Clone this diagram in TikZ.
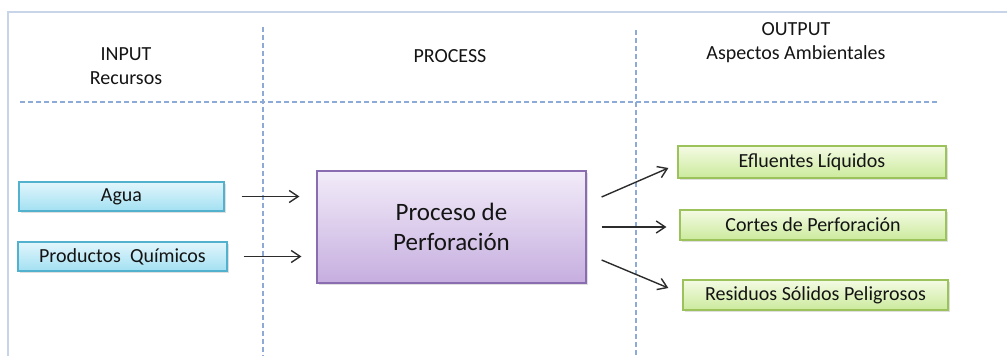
\documentclass[tikz,border=0pt]{standalone}
\usepackage{fontspec}
\setmainfont{Carlito}
\usetikzlibrary{arrows.meta,shadows,calc}
\definecolor{frameline}{HTML}{C8D4E8}
\definecolor{sepline}{HTML}{8EAAD6}
\definecolor{intop}{HTML}{E2F6FC}
\definecolor{inbot}{HTML}{A2E0F2}
\definecolor{inline}{HTML}{52B2CE}
\definecolor{proctop}{HTML}{F2ECF9}
\definecolor{procbot}{HTML}{C6AEDF}
\definecolor{procline}{HTML}{8A6CB0}
\definecolor{outtop}{HTML}{F4FBE4}
\definecolor{outbot}{HTML}{CBEA9C}
\definecolor{outline}{HTML}{9CC25C}
\definecolor{ink}{HTML}{141414}
\tikzset{
    base box/.style = {
        draw,
        line width=1.2pt,
        inner sep=0pt,
        text=ink,
        font=\fontsize{20}{24}\selectfont,
        drop shadow={shadow xshift=2pt, shadow yshift=-2pt, opacity=0.25},
        },
    input box/.style = {
        base box,
        draw=inline,
        top color=intop,
        bottom color=inbot,
        },
    process box/.style = {
        base box,
        draw=procline,
        top color=proctop,
        bottom color=procbot,
        align=center,
        font=\fontsize{25}{30}\selectfont,
        },
    output box/.style = {
        base box,
        draw=outline,
        top color=outtop,
        bottom color=outbot,
        },
    heading/.style = {
        text=ink,
        align=center,
        font=\fontsize{20}{24}\selectfont,
        },
    separator/.style = {
        draw=sepline,
        line width=1.2pt,
        dash pattern=on 5pt off 3pt,
        },
    flow/.style = {
        draw=ink!90,
        line width=1.4pt,
        -{Straight Barb[length=9pt,width=12pt,line width=1.4pt]},
        },
}

\begin{document}
\begin{tikzpicture}[x=1pt,y=-1pt]
    \useasboundingbox (0,0) rectangle (1007,356);

    % frame and column separators
    \draw[frameline, line width=1.2pt] (8,356) -- (8,12) -- (1007,12);
    \draw[separator] (20,102) -- (937,102);
    \draw[separator] (263,27) -- (263,356);
    \draw[separator] (636,30) -- (636,356);

    % headings
    \node[heading] (hin) at (126,66.5) {INPUT\\Recursos};
    \node[heading] (hproc) at (450,56) {PROCESS};
    \node[heading] (hout) at (796,43) {OUTPUT\\Aspectos Ambientales};

    \node[input box, minimum width=205pt, minimum height=29pt] (agua) at (121.5,196.5) {Agua};
    \node[input box, minimum width=209pt, minimum height=29pt] (quim) at (122.5,256.5) {Productos~ Químicos};

    \node[process box, minimum width=269pt, minimum height=112pt] (proc) at (451.5,227) {Proceso de\\Perforación};

    \node[output box, minimum width=268pt, minimum height=32pt] (eflu) at (812,162) {Efluentes Líquidos};
    \node[output box, minimum width=266pt, minimum height=30pt] (cort) at (813,225) {Cortes de Perforación};
    \node[output box, minimum width=265pt, minimum height=30pt] (resi) at (815.5,295) {Residuos Sólidos Peligrosos};

    \draw[flow, shorten <=17pt, shorten >=17pt] (agua.east) -- (agua.east -| proc.west);
    \draw[flow, shorten <=16pt, shorten >=15pt] (quim.east) -- (quim.east -| proc.west);

    \draw[flow] ([shift={(15,-30)}]proc.east) -- ([shift={(-9,6)}]eflu.west);
    \draw[flow, shorten <=15pt, shorten >=13pt] (proc.east) -- (proc.east -| cort.west);
    \draw[flow] ([shift={(15,33)}]proc.east) -- ([shift={(-14,-7)}]resi.west);
\end{tikzpicture}
\end{document}
